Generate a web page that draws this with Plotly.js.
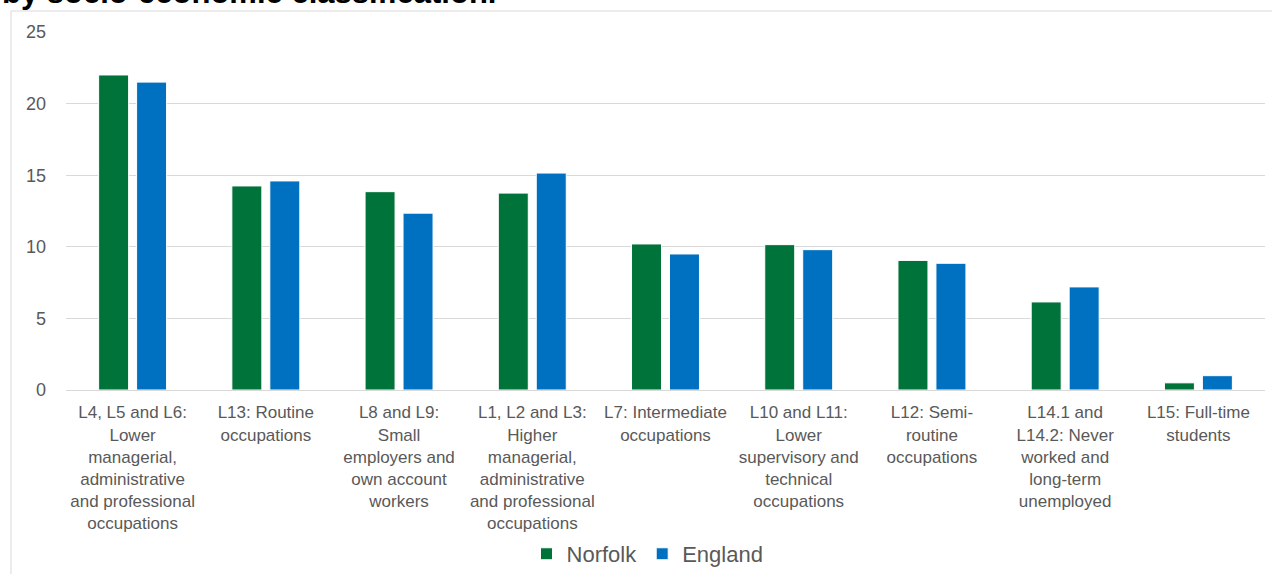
<!DOCTYPE html>
<html>
<head>
<meta charset="utf-8">
<script src="https://cdn.plot.ly/plotly-3.0.1.min.js"></script>
<style>html,body{margin:0;padding:0;background:#fff;}#chart{width:1272px;height:574px;}</style>
</head>
<body>
<div id="chart"></div>
<script>
const categories = [
  "L4, L5 and L6:<br>Lower<br>managerial,<br>administrative<br>and professional<br>occupations",
  "L13: Routine<br>occupations",
  "L8 and L9:<br>Small<br>employers and<br>own account<br>workers",
  "L1, L2 and L3:<br>Higher<br>managerial,<br>administrative<br>and professional<br>occupations",
  "L7: Intermediate<br>occupations",
  "L10 and L11:<br>Lower<br>supervisory and<br>technical<br>occupations",
  "L12: Semi-<br>routine<br>occupations",
  "L14.1 and<br>L14.2: Never<br>worked and<br>long-term<br>unemployed",
  "L15: Full-time<br>students"
];
const norfolk = [22.0, 14.25, 13.85, 13.75, 10.2, 10.15, 9.05, 6.15, 0.5];
const england = [21.5, 14.6, 12.35, 15.15, 9.5, 9.8, 8.85, 7.2, 1.0];
const seriesNames = ["Norfolk", "England"];
const titleText = "by socio-economic classification.";

const traces = [
  {type: "bar", name: seriesNames[0], x: categories, y: norfolk,
   marker: {color: "#00733A", line: {color: "#ffffff", width: 1}}},
  {type: "bar", name: seriesNames[1], x: categories, y: england,
   marker: {color: "#0070C0", line: {color: "#ffffff", width: 1}}}
];

const layout = {
  width: 1272, height: 574,
  margin: {l: 66, r: 7, t: 32, b: 184, autoexpand: false},
  paper_bgcolor: "#ffffff", plot_bgcolor: "#ffffff",
  font: {family: "Liberation Sans, Arial, sans-serif", color: "#595959"},
  title: {text: "<b>" + titleText + "</b>", x: 2/1272, xref: "container", xanchor: "left",
          y: 1 - 3/574, yref: "container", yanchor: "bottom",
          font: {size: 31, color: "#000000", family: "Liberation Sans, Arial, sans-serif"}},
  barmode: "group", bargap: 0.43, bargroupgap: 0.21,
  showlegend: true,
  legend: {orientation: "h", x: 0.485, xanchor: "center", y: -0.458, yanchor: "middle",
           font: {size: 22, color: "#595959"}, itemwidth: 30, traceorder: "normal"},
  xaxis: {tickangle: 0, tickfont: {size: 17, color: "#595959"}, showline: true,
          linecolor: "#d9d9d9", linewidth: 1, ticks: "", automargin: false,
          ticklabelstandoff: 7},
  yaxis: {range: [0, 25], dtick: 5, tickfont: {size: 18, color: "#595959"},
          gridcolor: "#d9d9d9", gridwidth: 1, zeroline: false, showline: false,
          ticks: "", ticklen: 0, automargin: false, ticklabelstandoff: 19},
  shapes: [{type: "rect", xref: "paper", yref: "paper",
            x0: (11-66)/1199, x1: (1275-66)/1199, y0: (390-580)/358, y1: (390-11)/358,
            line: {color: "#d9d9d9", width: 1}, fillcolor: "rgba(0,0,0,0)", layer: "below"}]
};

Plotly.newPlot("chart", traces, layout, {displayModeBar: false, staticPlot: true});
</script>
</body>
</html>
